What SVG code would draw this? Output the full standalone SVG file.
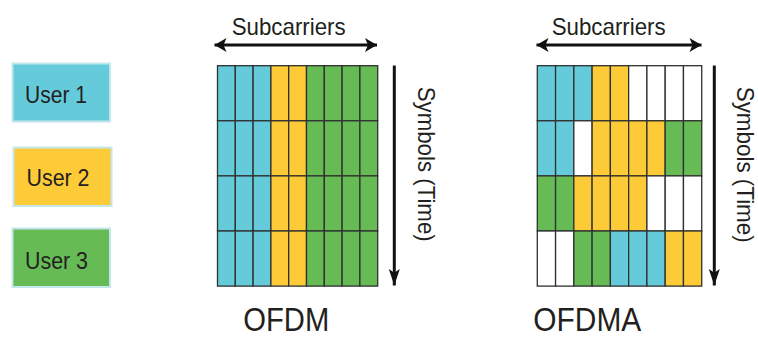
<svg xmlns="http://www.w3.org/2000/svg" width="758" height="338" viewBox="0 0 758 338">
  <style>
    .txt { font-family: "Liberation Sans Narrow", "Liberation Sans", Arial, sans-serif; fill: #231f20; }
    .cell { stroke: #2f3030; stroke-width: 1.3; }
    .b { fill: #65cbdb; }
    .y { fill: #fecb38; }
    .g { fill: #66bb55; }
    .w { fill: #ffffff; }
    .key { stroke: #c4e6ed; stroke-width: 2; }
    .axis { stroke: #111; stroke-width: 3; fill: none; }
  </style>
  <defs>
    <marker id="hhead" markerUnits="userSpaceOnUse" markerWidth="16" markerHeight="16" viewBox="-13 -8 14 16" refX="0" refY="0" orient="auto-start-reverse">
      <path d="M0,0 L-12,-7 L-9,0 L-12,7 Z" fill="#111"/>
    </marker>
    <marker id="vhead" markerUnits="userSpaceOnUse" markerWidth="18" markerHeight="14" viewBox="-16 -6 17 12" refX="0" refY="0" orient="auto">
      <path d="M0,0 L-15.5,-5.2 L-12,0 L-15.5,5.2 Z" fill="#111"/>
    </marker>
  </defs>

  <rect width="758" height="338" fill="#ffffff"/>

  <!-- Legend -->
  <g id="user1">
    <rect class="key b" x="12.5" y="63.5" width="97.5" height="58"/>
    <text class="txt" x="25" y="102.5" font-size="24" textLength="62" lengthAdjust="spacingAndGlyphs">User 1</text>
  </g>
  <g id="user2">
    <rect class="key y" x="13.5" y="147.5" width="98" height="58.5"/>
    <text class="txt" x="26.5" y="186" font-size="24" textLength="63" lengthAdjust="spacingAndGlyphs">User 2</text>
  </g>
  <g id="user3">
    <rect class="key g" x="12.5" y="228.5" width="97.5" height="58.5"/>
    <text class="txt" x="25" y="268.5" font-size="24" textLength="63" lengthAdjust="spacingAndGlyphs">User 3</text>
  </g>

  <!-- OFDM grid: 9 subcarriers x 4 symbols -->
  <g id="ofdm-grid">
    <!-- row 1 -->
    <rect class="cell b" x="217.5" y="65.7" width="17.8" height="55.1"/>
    <rect class="cell b" x="235.3" y="65.7" width="17.8" height="55.1"/>
    <rect class="cell b" x="253.1" y="65.7" width="17.8" height="55.1"/>
    <rect class="cell y" x="270.9" y="65.7" width="17.8" height="55.1"/>
    <rect class="cell y" x="288.7" y="65.7" width="17.8" height="55.1"/>
    <rect class="cell g" x="306.5" y="65.7" width="17.8" height="55.1"/>
    <rect class="cell g" x="324.3" y="65.7" width="17.8" height="55.1"/>
    <rect class="cell g" x="342.1" y="65.7" width="17.8" height="55.1"/>
    <rect class="cell g" x="359.9" y="65.7" width="17.8" height="55.1"/>
    <!-- row 2 -->
    <rect class="cell b" x="217.5" y="120.8" width="17.8" height="55.1"/>
    <rect class="cell b" x="235.3" y="120.8" width="17.8" height="55.1"/>
    <rect class="cell b" x="253.1" y="120.8" width="17.8" height="55.1"/>
    <rect class="cell y" x="270.9" y="120.8" width="17.8" height="55.1"/>
    <rect class="cell y" x="288.7" y="120.8" width="17.8" height="55.1"/>
    <rect class="cell g" x="306.5" y="120.8" width="17.8" height="55.1"/>
    <rect class="cell g" x="324.3" y="120.8" width="17.8" height="55.1"/>
    <rect class="cell g" x="342.1" y="120.8" width="17.8" height="55.1"/>
    <rect class="cell g" x="359.9" y="120.8" width="17.8" height="55.1"/>
    <!-- row 3 -->
    <rect class="cell b" x="217.5" y="175.9" width="17.8" height="55.1"/>
    <rect class="cell b" x="235.3" y="175.9" width="17.8" height="55.1"/>
    <rect class="cell b" x="253.1" y="175.9" width="17.8" height="55.1"/>
    <rect class="cell y" x="270.9" y="175.9" width="17.8" height="55.1"/>
    <rect class="cell y" x="288.7" y="175.9" width="17.8" height="55.1"/>
    <rect class="cell g" x="306.5" y="175.9" width="17.8" height="55.1"/>
    <rect class="cell g" x="324.3" y="175.9" width="17.8" height="55.1"/>
    <rect class="cell g" x="342.1" y="175.9" width="17.8" height="55.1"/>
    <rect class="cell g" x="359.9" y="175.9" width="17.8" height="55.1"/>
    <!-- row 4 -->
    <rect class="cell b" x="217.5" y="231" width="17.8" height="55.1"/>
    <rect class="cell b" x="235.3" y="231" width="17.8" height="55.1"/>
    <rect class="cell b" x="253.1" y="231" width="17.8" height="55.1"/>
    <rect class="cell y" x="270.9" y="231" width="17.8" height="55.1"/>
    <rect class="cell y" x="288.7" y="231" width="17.8" height="55.1"/>
    <rect class="cell g" x="306.5" y="231" width="17.8" height="55.1"/>
    <rect class="cell g" x="324.3" y="231" width="17.8" height="55.1"/>
    <rect class="cell g" x="342.1" y="231" width="17.8" height="55.1"/>
    <rect class="cell g" x="359.9" y="231" width="17.8" height="55.1"/>
  </g>

  <!-- OFDMA grid: 9 subcarriers x 4 symbols -->
  <g id="ofdma-grid">
    <!-- row 1 -->
    <rect class="cell b" x="537.3" y="65.7" width="18.27" height="55.1"/>
    <rect class="cell b" x="555.57" y="65.7" width="18.27" height="55.1"/>
    <rect class="cell b" x="573.84" y="65.7" width="18.27" height="55.1"/>
    <rect class="cell y" x="592.11" y="65.7" width="18.27" height="55.1"/>
    <rect class="cell y" x="610.38" y="65.7" width="18.27" height="55.1"/>
    <rect class="cell w" x="628.65" y="65.7" width="18.27" height="55.1"/>
    <rect class="cell w" x="646.92" y="65.7" width="18.27" height="55.1"/>
    <rect class="cell w" x="665.19" y="65.7" width="18.27" height="55.1"/>
    <rect class="cell w" x="683.46" y="65.7" width="18.27" height="55.1"/>
    <!-- row 2 -->
    <rect class="cell b" x="537.3" y="120.8" width="18.27" height="55.1"/>
    <rect class="cell b" x="555.57" y="120.8" width="18.27" height="55.1"/>
    <rect class="cell w" x="573.84" y="120.8" width="18.27" height="55.1"/>
    <rect class="cell y" x="592.11" y="120.8" width="18.27" height="55.1"/>
    <rect class="cell y" x="610.38" y="120.8" width="18.27" height="55.1"/>
    <rect class="cell y" x="628.65" y="120.8" width="18.27" height="55.1"/>
    <rect class="cell y" x="646.92" y="120.8" width="18.27" height="55.1"/>
    <rect class="cell g" x="665.19" y="120.8" width="18.27" height="55.1"/>
    <rect class="cell g" x="683.46" y="120.8" width="18.27" height="55.1"/>
    <!-- row 3 -->
    <rect class="cell g" x="537.3" y="175.9" width="18.27" height="55.1"/>
    <rect class="cell g" x="555.57" y="175.9" width="18.27" height="55.1"/>
    <rect class="cell y" x="573.84" y="175.9" width="18.27" height="55.1"/>
    <rect class="cell y" x="592.11" y="175.9" width="18.27" height="55.1"/>
    <rect class="cell y" x="610.38" y="175.9" width="18.27" height="55.1"/>
    <rect class="cell y" x="628.65" y="175.9" width="18.27" height="55.1"/>
    <rect class="cell w" x="646.92" y="175.9" width="18.27" height="55.1"/>
    <rect class="cell w" x="665.19" y="175.9" width="18.27" height="55.1"/>
    <rect class="cell w" x="683.46" y="175.9" width="18.27" height="55.1"/>
    <!-- row 4 -->
    <rect class="cell w" x="537.3" y="231" width="18.27" height="55.1"/>
    <rect class="cell w" x="555.57" y="231" width="18.27" height="55.1"/>
    <rect class="cell g" x="573.84" y="231" width="18.27" height="55.1"/>
    <rect class="cell g" x="592.11" y="231" width="18.27" height="55.1"/>
    <rect class="cell b" x="610.38" y="231" width="18.27" height="55.1"/>
    <rect class="cell b" x="628.65" y="231" width="18.27" height="55.1"/>
    <rect class="cell b" x="646.92" y="231" width="18.27" height="55.1"/>
    <rect class="cell y" x="665.19" y="231" width="18.27" height="55.1"/>
    <rect class="cell y" x="683.46" y="231" width="18.27" height="55.1"/>
  </g>

  <!-- Axis arrows -->
  <g id="connectors">
    <line class="axis" x1="214.5" y1="45" x2="377" y2="45" marker-start="url(#hhead)" marker-end="url(#hhead)"/>
    <line class="axis" x1="394.3" y1="65.5" x2="394.3" y2="285.5" marker-end="url(#vhead)"/>
    <line class="axis" x1="536.5" y1="45" x2="701.5" y2="45" marker-start="url(#hhead)" marker-end="url(#hhead)"/>
    <line class="axis" x1="714.3" y1="65.5" x2="714.3" y2="285.5" marker-end="url(#vhead)"/>
  </g>

  <!-- Axis labels -->
  <g id="labels">
    <text class="txt" x="231.7" y="35" font-size="24" textLength="114" lengthAdjust="spacingAndGlyphs">Subcarriers</text>
    <text class="txt" x="551.7" y="35" font-size="24" textLength="114" lengthAdjust="spacingAndGlyphs">Subcarriers</text>
    <text class="txt" transform="translate(417.5 86.7) rotate(90)" font-size="24" textLength="155" lengthAdjust="spacingAndGlyphs">Symbols (Time)</text>
    <text class="txt" transform="translate(737 86.7) rotate(90)" font-size="24" textLength="156" lengthAdjust="spacingAndGlyphs">Symbols (Time)</text>
    <text class="txt" x="243.3" y="330.5" font-size="34" textLength="86" lengthAdjust="spacingAndGlyphs">OFDM</text>
    <text class="txt" x="533.3" y="330.5" font-size="34" textLength="108" lengthAdjust="spacingAndGlyphs">OFDMA</text>
  </g>
</svg>
